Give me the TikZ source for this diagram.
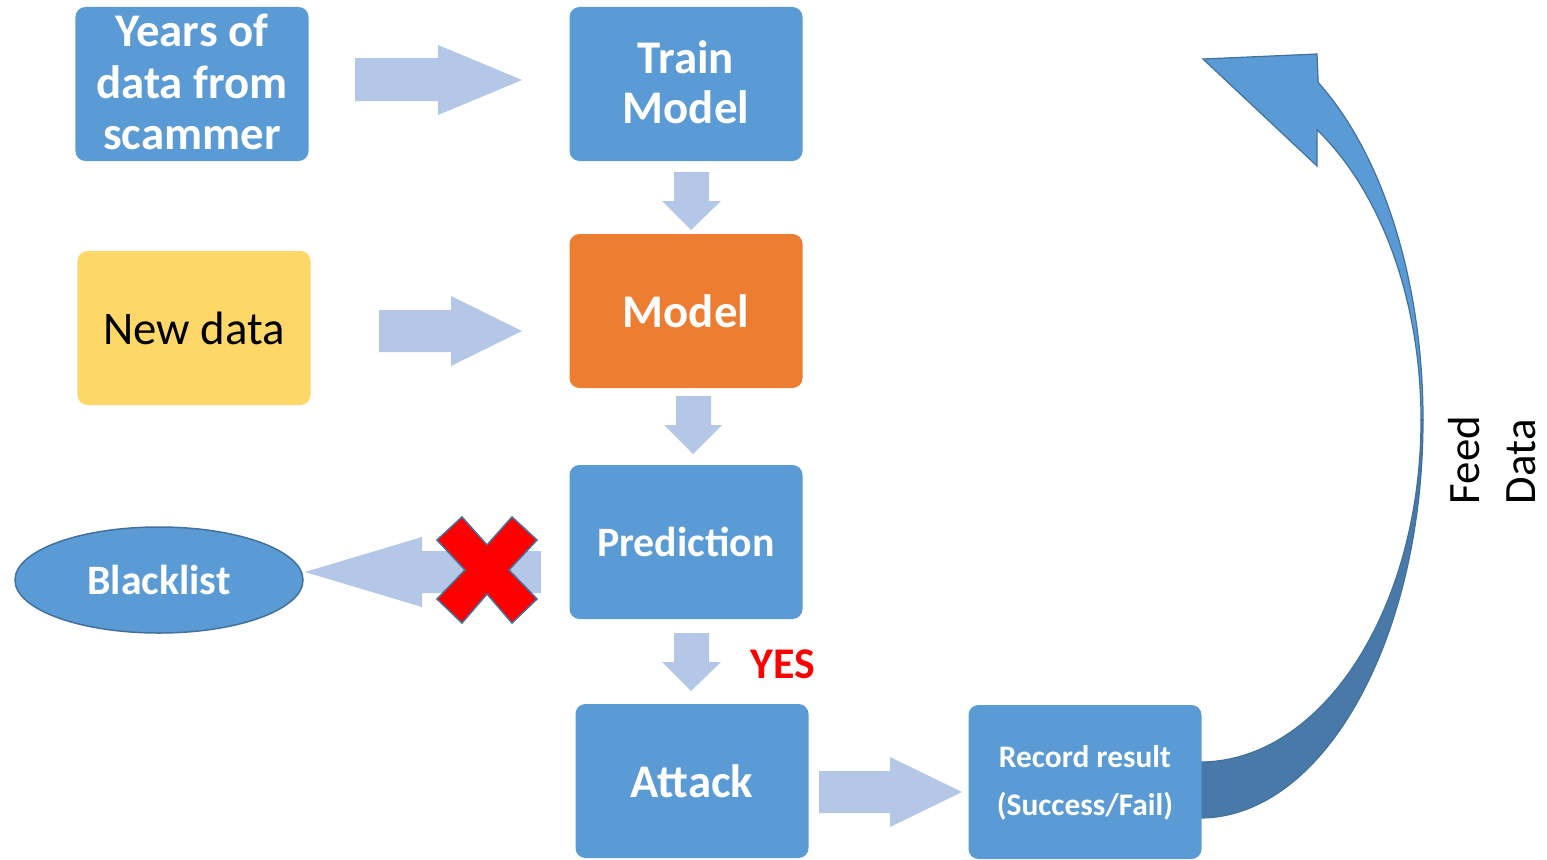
\documentclass[tikz,border=0pt]{standalone}
\usepackage{fontspec}
\setmainfont{Carlito}
\usetikzlibrary{shapes.geometric}
\definecolor{boxblue}{HTML}{5B9BD5}
\definecolor{boxorange}{HTML}{ED7D31}
\definecolor{boxyellow}{HTML}{FDD768}
\definecolor{arrowblue}{HTML}{B4C7E7}
\definecolor{edgeblue}{HTML}{41719C}
\definecolor{darkblue}{HTML}{4879A9}
\tikzset{
  box/.style={rectangle, rounded corners=10bp, fill=boxblue, text=white, align=center, inner sep=0pt, minimum width=233bp, minimum height=154bp},
  barrow/.style={fill=arrowblue}
}
\begin{document}
\begin{tikzpicture}[x=1bp,y=-1bp]
\useasboundingbox (0,0) rectangle (1547,859);

% curved feedback arrow (drawn beneath the record box)
\filldraw[fill=darkblue, draw=edgeblue, line width=1.2bp]
  (1423,420) arc[start angle=0, end angle=90, x radius=223, y radius=398]
  -- (1200,762) arc[start angle=90, end angle=0, x radius=221, y radius=342] -- cycle;
\filldraw[fill=boxblue, draw=edgeblue, line width=1.2bp, line join=miter]
  (1203,59) -- (1317,54) -- (1318.2,82.5)
  arc[start angle=-58, end angle=0, x radius=223, y radius=398]
  -- (1421,420) arc[start angle=0, end angle=-58, x radius=221, y radius=342]
  -- (1317,166) -- cycle;

% boxes
\node[box, font={\bfseries\fontsize{47}{52}\selectfont}] (years) at (192,84) {};
\node[font={\bfseries\fontsize{47}{52}\selectfont}, text=white, align=center, inner sep=0pt] at (192,82) {Years of\\data from\\scammer};
\node[box] (train) at (686,84) {};
\node[font={\bfseries\fontsize{47}{50}\selectfont}, text=white, align=center, inner sep=0pt] at (686,82) {Train\\Model};
\node[box, fill=boxorange, font={\bfseries\fontsize{47}{50}\selectfont}] (model) at (686,311) {Model};
\node[box, fill=boxyellow, text=black, font={\fontsize{47}{50}\selectfont}] (newdata) at (194,328) {New data};
\node[box, font={\bfseries\fontsize{42}{48}\selectfont}] (pred) at (686,542) {Prediction};
\node[box, font={\bfseries\fontsize{47}{50}\selectfont}] (attack) at (692,781) {Attack};
\node[box] (record) at (1085,782) {};
\node[font={\bfseries\fontsize{31.5}{48}\selectfont}, text=white, align=center, inner sep=0pt] at (1085,783) {Record result\\(Success/Fail)};
\node[ellipse, fill=boxblue, draw=edgeblue, line width=1.5bp, minimum width=288bp, minimum height=106bp, inner sep=0pt, text=white, font={\bfseries\fontsize{42}{48}\selectfont}] (black) at (159,580) {Blacklist};

% block arrows
\fill[barrow] (355,58) -- (438,58) -- (438,45) -- (522,80) -- (438,115) -- (438,101) -- (355,101) -- cycle;
\fill[barrow] (674,172) -- (709,172) -- (709,201) -- (721,201) -- (691,230) -- (662,201) -- (674,201) -- cycle;
\fill[barrow] (379,310) -- (451,310) -- (451,296) -- (522,331) -- (451,366) -- (451,352) -- (379,352) -- cycle;
\fill[barrow] (676,396) -- (711,396) -- (711,425) -- (722,425) -- (693,454) -- (664,425) -- (676,425) -- cycle;
\fill[barrow] (541,551) -- (422,551) -- (422,537) -- (305,572) -- (422,607) -- (422,593) -- (541,593) -- cycle;
\fill[barrow] (674,633) -- (709,633) -- (709,662) -- (721,662) -- (691,691) -- (662,662) -- (674,662) -- cycle;
\fill[barrow] (819,771) -- (890,771) -- (890,757) -- (962,792) -- (890,827) -- (890,813) -- (819,813) -- cycle;

% red cross
\filldraw[fill=red, draw=edgeblue, line width=1.5bp, shift={(487,570)}]
  (-50,-30) -- (-25,-53) -- (0,-25) -- (25,-53) -- (50,-30) -- (22,0) -- (50,29) -- (25,53) -- (0,24) -- (-25,53) -- (-50,29) -- (-22,0) -- cycle;

% labels
\node[text=red, font={\bfseries\fontsize{44}{48}\selectfont}, inner sep=0pt] (yes) at (783,664) {YES};
\node[rotate=90, align=left, inner sep=0pt, font={\fontsize{45}{57}\selectfont}] (feed) at (1492,460) {Feed\\Data};
\end{tikzpicture}
\end{document}
